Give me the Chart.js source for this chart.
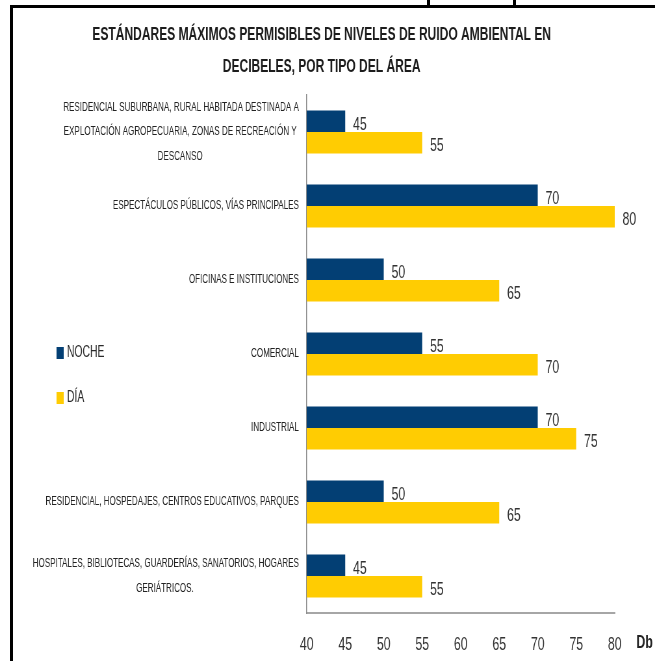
<!DOCTYPE html>
<html>
<head>
<meta charset="utf-8">
<script src="https://cdn.jsdelivr.net/npm/chart.js@4.4.1/dist/chart.umd.min.js"></script>
<style>
html, body { margin: 0; padding: 0; background: #fff; }
body { width: 655px; height: 661px; position: relative; overflow: hidden; }
#frame { position: absolute; left: 10px; top: 5px; width: 642px; height: 653px; border-left: 3px solid #000; border-top: 3px solid #000; }
#frame canvas { display: block; }
.stub { position: absolute; top: 0; width: 3px; height: 6px; background: #000; }
</style>
</head>
<body>
<div class="stub" style="left:427px"></div>
<div class="stub" style="left:513px"></div>
<!-- el original esta comprimido en horizontal: se dibuja mas ancho y se encoge con css -->
<div id="frame"><canvas id="grafico" width="988" height="653" style="width:642px;height:653px"></canvas></div>
<script>
var FUENTE = "'Liberation Sans', Arial, sans-serif";

var categorias = [
  ['RESIDENCIAL SUBURBANA, RURAL HABITADA DESTINADA A', 'EXPLOTACIÓN AGROPECUARIA, ZONAS DE RECREACIÓN Y', 'DESCANSO'],
  'ESPECTÁCULOS PÚBLICOS, VÍAS PRINCIPALES',
  'OFICINAS E INSTITUCIONES',
  'COMERCIAL',
  'INDUSTRIAL',
  'RESIDENCIAL, HOSPEDAJES, CENTROS EDUCATIVOS, PARQUES',
  ['HOSPITALES, BIBLIOTECAS, GUARDERÍAS, SANATORIOS, HOGARES', 'GERIÁTRICOS.']
];
var noche = [45, 70, 50, 55, 70, 50, 45];
var dia = [55, 80, 65, 70, 75, 65, 55];
var series = ['NOCHE', 'DÍA'];
var titulo = ['ESTÁNDARES MÁXIMOS PERMISIBLES DE NIVELES DE RUIDO AMBIENTAL EN', 'DECIBELES, POR TIPO DEL ÁREA'];
var unidad = 'Db';

// centra las lineas de cada etiqueta dentro de su bloque (el eje las alinea a la derecha)
function centrarLineas(lbl, font) {
  if (!Array.isArray(lbl)) return lbl;
  var m = document.createElement('canvas').getContext('2d');
  m.font = font;
  var esp = m.measureText('\u00a0').width;
  var anchos = lbl.map(function (l) { return m.measureText(l).width; });
  var max = Math.max.apply(null, anchos);
  return lbl.map(function (l, i) {
    var n = Math.round((max - anchos[i]) / 2 / esp);
    return l + '\u00a0'.repeat(n);
  });
}

var tamEtiq = 12.4;
var etiquetasY = categorias.map(function (c) { return centrarLineas(c, tamEtiq + 'px ' + FUENTE); });

var valores = {
  id: 'valores',
  afterDatasetsDraw: function (chart) {
    var c = chart.ctx;
    c.save();
    c.fillStyle = '#333';
    c.font = '19px ' + FUENTE;
    c.textAlign = 'left';
    c.textBaseline = 'middle';
    chart.data.datasets.forEach(function (ds, i) {
      chart.getDatasetMeta(i).data.forEach(function (bar, j) {
        c.fillText(ds.data[j], bar.x + 12, bar.y + 3);
      });
    });
    var xs = chart.scales.x;
    c.font = 'bold 19px ' + FUENTE;
    c.textAlign = 'center';
    c.fillStyle = '#222';
    c.fillText(unidad, xs.right + 46, xs.top + 30);
    c.restore();
  }
};

var leyenda = {
  id: 'leyenda',
  afterDraw: function (chart) {
    var c = chart.ctx;
    c.save();
    c.font = '16px ' + FUENTE;
    c.textBaseline = 'middle';
    c.textAlign = 'left';
    chart.data.datasets.forEach(function (ds, i) {
      var y = 345 + i * 45;
      c.fillStyle = ds.backgroundColor;
      c.fillRect(67, y - 6, 11, 12);
      c.fillStyle = '#2a2a2a';
      c.fillText(ds.label, 83, y);
    });
    c.restore();
  }
};

new Chart(document.getElementById('grafico'), {
  type: 'bar',
  data: {
    labels: etiquetasY,
    datasets: [
      { label: series[0], data: noche, backgroundColor: '#033F74' },
      { label: series[1], data: dia, backgroundColor: '#FFCC02' }
    ]
  },
  options: {
    indexAxis: 'y',
    responsive: false,
    animation: false,
    categoryPercentage: 0.58,
    barPercentage: 1,
    layout: { padding: { left: 24, right: 62, top: 0, bottom: 0 } },
    plugins: {
      legend: { display: false },
      tooltip: { enabled: false },
      title: {
        display: true,
        text: titulo,
        color: '#1c1c1c',
        font: { family: FUENTE, size: 18.5, weight: 'bold', lineHeight: '32px' },
        padding: { top: 11, bottom: 12 }
      }
    },
    scales: {
      x: {
        min: 40,
        max: 80,
        grid: { display: false, drawTicks: false },
        border: { display: true, color: '#a6a6a6', width: 2 },
        ticks: { stepSize: 5, padding: 20, color: '#333', font: { family: FUENTE, size: 19 } },
        afterFit: function (s) { s.height = 48; }
      },
      y: {
        grid: { display: false, drawTicks: false },
        border: { display: true, color: '#8c8c8c', width: 1.5 },
        ticks: { autoSkip: false, padding: 12, color: '#222', font: { family: FUENTE, size: tamEtiq, lineHeight: 2.0 } },
        afterFit: function (s) {
          s.width = 428;
          s.paddingTop = 0;
          s.paddingBottom = 0;
        }
      }
    }
  },
  plugins: [valores, leyenda]
});
</script>
</body>
</html>
